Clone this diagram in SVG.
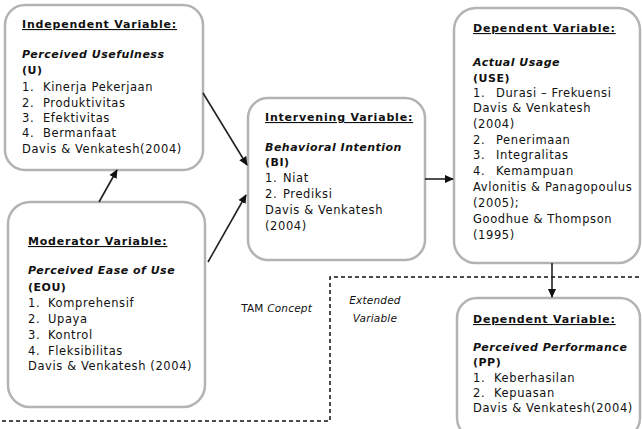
<svg xmlns="http://www.w3.org/2000/svg" width="642" height="429" viewBox="0 0 642 429">
<style>
.box{fill:#fff;stroke:#b3b3b3;stroke-width:2.5}
text{font-family:"DejaVu Sans","Liberation Sans",sans-serif;font-size:11.5px;fill:#111;letter-spacing:0.6px}
.t{font-weight:bold;font-size:11px;letter-spacing:0.8px;text-decoration:underline}
.bi{font-weight:bold;font-style:italic;font-size:11px;letter-spacing:0.5px}
.b{font-weight:bold;font-size:11px;letter-spacing:0.5px}
.it{font-style:italic}
.lbl{font-size:10.5px;letter-spacing:0.2px}
.con{stroke:#222;stroke-width:1.6;fill:none}
.dash{stroke:#111;stroke-width:1.5;fill:none;stroke-dasharray:4 3}
</style>
<defs>
<marker id="ah" viewBox="0 0 10 10" refX="9" refY="5" markerWidth="9" markerHeight="9" orient="auto" markerUnits="userSpaceOnUse">
<path d="M0,0.5 L10,5 L0,9.5 z" fill="#111"/>
</marker>
</defs>

<g id="dashed-boundary">
<path class="dash" d="M2,421 H330 V277 H642"/>
</g>

<g id="independent">
<rect class="box" x="5" y="5" width="198" height="165" rx="20"/>
<text class="t" x="22" y="28">Independent Variable:</text>
<text class="bi" x="22" y="58">Perceived Usefulness</text>
<text class="b" x="22" y="74">(U)</text>
<text x="22" y="91">1.</text><text x="43" y="91">Kinerja Pekerjaan</text>
<text x="22" y="107">2.</text><text x="43" y="107">Produktivitas</text>
<text x="22" y="122">3.</text><text x="43" y="122">Efektivitas</text>
<text x="22" y="137">4.</text><text x="43" y="137">Bermanfaat</text>
<text x="22" y="153">Davis &amp; Venkatesh(2004)</text>
</g>

<g id="moderator">
<rect class="box" x="8" y="202" width="197" height="205" rx="22"/>
<text class="t" x="28" y="245">Moderator Variable:</text>
<text class="bi" x="28" y="274">Perceived Ease of Use</text>
<text class="b" x="28" y="291">(EOU)</text>
<text x="28" y="307">1.</text><text x="48" y="307">Komprehensif</text>
<text x="28" y="323">2.</text><text x="48" y="323">Upaya</text>
<text x="28" y="339">3.</text><text x="48" y="339">Kontrol</text>
<text x="28" y="355">4.</text><text x="48" y="355">Fleksibilitas</text>
<text x="28" y="370">Davis &amp; Venkatesh (2004)</text>
</g>

<g id="intervening">
<rect class="box" x="248" y="98" width="177" height="162" rx="20"/>
<text class="t" x="265" y="121">Intervening Variable:</text>
<text class="bi" x="265" y="151">Behavioral Intention</text>
<text class="b" x="265" y="166">(BI)</text>
<text x="265" y="182">1.</text><text x="283" y="182">Niat</text>
<text x="265" y="198">2.</text><text x="283" y="198">Prediksi</text>
<text x="265" y="214">Davis &amp; Venkatesh</text>
<text x="265" y="230">(2004)</text>
</g>

<g id="dependent-use">
<rect class="box" x="454" y="8" width="186" height="255" rx="22"/>
<text class="t" x="473" y="32">Dependent Variable:</text>
<text class="bi" x="473" y="66">Actual Usage</text>
<text class="b" x="473" y="82">(USE)</text>
<text x="473" y="97">1.</text><text x="496" y="97">Durasi – Frekuensi</text>
<text x="473" y="112">Davis &amp; Venkatesh</text>
<text x="473" y="128">(2004)</text>
<text x="473" y="144">2.</text><text x="496" y="144">Penerimaan</text>
<text x="473" y="159">3.</text><text x="496" y="159">Integralitas</text>
<text x="473" y="175">4.</text><text x="496" y="175">Kemampuan</text>
<text x="473" y="191">Avlonitis &amp; Panagopoulus</text>
<text x="473" y="207">(2005);</text>
<text x="473" y="223">Goodhue &amp; Thompson</text>
<text x="473" y="239">(1995)</text>
</g>

<g id="dependent-pp">
<rect class="box" x="457" y="298" width="183" height="140" rx="20"/>
<text class="t" x="473" y="323">Dependent Variable:</text>
<text class="bi" x="473" y="351">Perceived Performance</text>
<text class="b" x="473" y="366">(PP)</text>
<text x="473" y="382">1.</text><text x="494" y="382">Keberhasilan</text>
<text x="473" y="397">2.</text><text x="494" y="397">Kepuasan</text>
<text x="473" y="412">Davis &amp; Venkatesh(2004)</text>
</g>

<g id="labels">
<text class="lbl" x="312" y="312" text-anchor="end">TAM <tspan class="it">Concept</tspan></text>
<text class="lbl it" x="375" y="304" text-anchor="middle">Extended</text>
<text class="lbl it" x="375" y="322" text-anchor="middle">Variable</text>
</g>

<g id="connectors">
<line class="con" x1="203" y1="93" x2="247" y2="165" marker-end="url(#ah)"/>
<line class="con" x1="208" y1="262" x2="246" y2="195" marker-end="url(#ah)"/>
<line class="con" x1="99" y1="202" x2="117" y2="170" marker-end="url(#ah)"/>
<line class="con" x1="425" y1="179" x2="453" y2="179" marker-end="url(#ah)"/>
<line class="con" x1="552" y1="263" x2="552" y2="297" marker-end="url(#ah)"/>
</g>
</svg>
